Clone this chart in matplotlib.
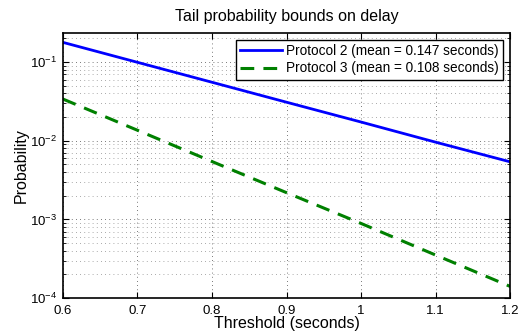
import numpy as np
import matplotlib
matplotlib.use("Agg")
import matplotlib.pyplot as plt
from matplotlib.ticker import LogLocator, NullFormatter

# values at each major x tick
threshold = [0.6, 0.7, 0.8, 0.9, 1.0, 1.1, 1.2]
protocol2 = [0.178, 0.0993, 0.0554, 0.0309, 0.0173, 0.0096, 0.0054]
protocol3 = [0.0339, 0.0136, 0.00545, 0.00219, 0.00089, 0.000353, 0.000141]
xtick_labels = ['0.6', '0.7', '0.8', '0.9', '1', '1.1', '1.2']

plt.rcParams['font.family'] = ['Liberation Sans', 'DejaVu Sans']

fig = plt.figure(figsize=(5.2, 3.35), dpi=100)
ax = fig.add_axes([0.121, 0.110, 0.860, 0.791])

ax.semilogy(threshold, protocol2, color=(0, 0, 1), lw=2,
            label='Protocol 2 (mean = 0.147 seconds)')
ax.semilogy(threshold, protocol3, color=(0, 0.5, 0), lw=2.2, ls=(0, (4.5, 3)),
            label='Protocol 3 (mean = 0.108 seconds)')

ax.set_xlim(0.6, 1.2)
ax.set_ylim(1e-4, 0.233)
ax.set_xticks(threshold)
ax.set_xticklabels(xtick_labels)
ax.yaxis.set_major_locator(LogLocator(base=10, numticks=10))
ax.yaxis.set_minor_locator(LogLocator(base=10, subs=np.arange(2, 10), numticks=20))
ax.yaxis.set_minor_formatter(NullFormatter())

ax.grid(True, which='major', axis='both', ls=(0, (1, 4)), color='k', lw=0.6, alpha=0.7)
ax.grid(True, which='minor', axis='y', ls=(0, (1, 4)), color='k', lw=0.6, alpha=0.45)

ax.tick_params(which='both', direction='in', top=True, right=True, labelsize=9.5)
ax.tick_params(which='major', length=4)
ax.tick_params(which='minor', length=2)
ax.tick_params(axis='x', pad=5)
ax.tick_params(axis='y', pad=4)
for s in ax.spines.values():
    s.set_linewidth(1.2)

ax.set_xlabel('Threshold (seconds)', fontsize=11.5, labelpad=-1)
ax.set_ylabel('Probability', fontsize=11.5, labelpad=1)
ax.set_title('Tail probability bounds on delay', fontsize=11.5, pad=9)

leg = ax.legend(loc='upper right', fontsize=9.8, frameon=True, fancybox=False,
                borderaxespad=0.5, handlelength=3.1, borderpad=0.3, labelspacing=0.25,
                handletextpad=0.3)
leg.get_frame().set_edgecolor('k')
leg.get_frame().set_linewidth(1.0)
leg.get_frame().set_alpha(1)

fig.savefig('out.png', dpi=100)
